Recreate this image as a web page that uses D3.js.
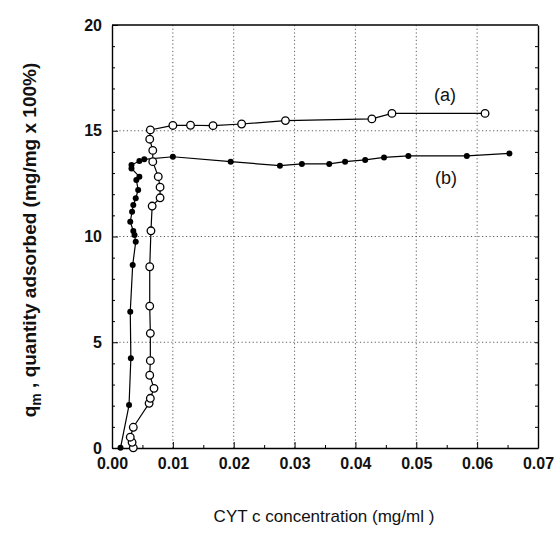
<!DOCTYPE html>
<html>
<head>
<meta charset="utf-8">
<script src="https://cdn.jsdelivr.net/npm/d3@7"></script>
<style>
  body{margin:0;background:#fff;}
  text{font-family:"Liberation Sans",Arial,sans-serif;fill:#111;}
</style>
</head>
<body>
<div id="chart"></div>
<script>
// series (a): open circles, [concentration mg/ml, q_m]
const seriesA=[
  [0.0035,0.01],[0.0033,0.27],[0.0030,0.51],[0.0035,0.98],[0.0061,2.11],[0.0063,2.35],
  [0.0069,2.82],[0.0062,3.44],[0.0063,4.13],[0.0063,5.42],[0.0062,6.71],[0.0062,8.57],
  [0.0064,10.27],[0.0066,11.44],[0.0079,11.83],[0.0079,12.33],[0.0076,12.83],[0.0067,13.54],
  [0.0067,14.07],[0.0062,14.60],[0.0063,15.04],[0.0100,15.25],[0.0129,15.26],[0.0166,15.24],
  [0.0213,15.32],[0.0285,15.48],[0.0427,15.56],[0.0460,15.82],[0.0613,15.82]
];
// series (b): filled dots
const seriesB=[
  [0.0014,0.01],[0.0028,2.03],[0.0031,4.24],[0.0030,6.44],[0.0034,8.65],[0.0039,9.75],
  [0.0037,10.07],[0.0035,10.26],[0.0030,10.70],[0.0033,11.17],[0.0035,11.49],[0.0039,11.81],
  [0.0043,12.20],[0.0040,12.67],[0.0045,12.83],[0.0032,13.22],[0.0032,13.38],[0.0045,13.57],
  [0.0053,13.65],[0.0100,13.77],[0.0195,13.54],[0.0276,13.35],[0.0312,13.43],[0.0357,13.43],
  [0.0383,13.54],[0.0416,13.62],[0.0447,13.74],[0.0487,13.81],[0.0583,13.81],[0.0653,13.93]
];
const xTicks=[0,0.01,0.02,0.03,0.04,0.05,0.06,0.07];
const yTicks=[0,5,10,15,20];

const W=560,H=534;
const m={left:112,right:22,top:25,bottom:86};
const svg=d3.select("#chart").append("svg").attr("width",W).attr("height",H);
const x=d3.scaleLinear().domain([0,0.07]).range([m.left,W-m.right]);
const y=d3.scaleLinear().domain([0,20]).range([H-m.bottom,m.top]);

// dotted grid
const grid=svg.append("g").attr("stroke","#333").attr("stroke-width",0.8).attr("stroke-dasharray","1.2,2.5");
grid.selectAll(".gx").data(xTicks.slice(1,-1)).join("line")
  .attr("x1",d=>x(d)).attr("x2",d=>x(d)).attr("y1",y(0)).attr("y2",y(20));
grid.selectAll(".gy").data(yTicks.slice(1,-1)).join("line")
  .attr("x1",x(0)).attr("x2",x(0.07)).attr("y1",d=>y(d)).attr("y2",d=>y(d));

// axes with inward ticks
const fmt=d3.format(".2f");
svg.append("g").attr("transform",`translate(0,${y(0)})`)
  .call(d3.axisBottom(x).tickValues(xTicks).tickFormat(fmt).tickSizeInner(-6).tickSizeOuter(0).tickPadding(10))
  .call(s=>s.selectAll("text").attr("font-size",16).attr("font-weight",600))
  .call(s=>s.select(".domain").attr("stroke-width",1.4));
svg.append("g").attr("transform",`translate(0,${y(0)})`)
  .call(d3.axisBottom(x).tickValues(d3.range(0.005,0.07,0.01)).tickFormat("").tickSizeInner(-3).tickSizeOuter(0))
  .call(s=>s.select(".domain").remove());
svg.append("g").attr("transform",`translate(${x(0)},0)`)
  .call(d3.axisLeft(y).tickValues(yTicks).tickSizeInner(-6).tickSizeOuter(0).tickPadding(10))
  .call(s=>s.selectAll("text").attr("font-size",16).attr("font-weight",600))
  .call(s=>s.select(".domain").attr("stroke-width",1.4));
svg.append("g").attr("transform",`translate(${x(0)},0)`)
  .call(d3.axisLeft(y).tickValues(d3.range(1,20).filter(v=>v%5)).tickFormat("").tickSizeInner(-3).tickSizeOuter(0))
  .call(s=>s.select(".domain").remove());
svg.append("g").attr("transform",`translate(${x(0.07)},0)`)
  .call(d3.axisRight(y).tickValues(d3.range(1,20)).tickFormat("").tickSizeInner(-3).tickSizeOuter(0))
  .call(s=>s.select(".domain").attr("stroke-width",1.4));
svg.append("line").attr("x1",x(0)).attr("x2",x(0.07)).attr("y1",y(20)).attr("y2",y(20))
  .attr("stroke","#000").attr("stroke-width",1.4);

// lines
const line=d3.line().x(d=>x(d[0])).y(d=>y(d[1]));
svg.append("path").datum(seriesA).attr("d",line).attr("fill","none").attr("stroke","#000").attr("stroke-width",1.2);
svg.append("path").datum(seriesB).attr("d",line).attr("fill","none").attr("stroke","#000").attr("stroke-width",1.2);
svg.selectAll(".ma").data(seriesA).join("circle")
  .attr("cx",d=>x(d[0])).attr("cy",d=>y(d[1])).attr("r",3.8)
  .attr("fill","#fff").attr("stroke","#000").attr("stroke-width",1.3);
svg.selectAll(".mb").data(seriesB).join("circle")
  .attr("cx",d=>x(d[0])).attr("cy",d=>y(d[1])).attr("r",3)
  .attr("fill","#000");

// series labels
svg.append("text").attr("x",445).attr("y",101).attr("text-anchor","middle").attr("font-size",18).text("(a)");
svg.append("text").attr("x",446).attr("y",184).attr("text-anchor","middle").attr("font-size",18).text("(b)");

// axis titles
svg.append("text").attr("x",324).attr("y",522).attr("text-anchor","middle")
  .attr("font-size",17).text("CYT c concentration (mg/ml )");
const yl=svg.append("text").attr("transform",`translate(36,240) rotate(-90)`).attr("text-anchor","middle")
  .attr("font-size",19).attr("font-weight",600);
yl.append("tspan").text("q");
yl.append("tspan").attr("font-size",14).attr("dy",5).text("m");
yl.append("tspan").attr("dy",-5).text(" ,  quantity adsorbed (mg/mg x 100%)");
</script>
</body>
</html>
